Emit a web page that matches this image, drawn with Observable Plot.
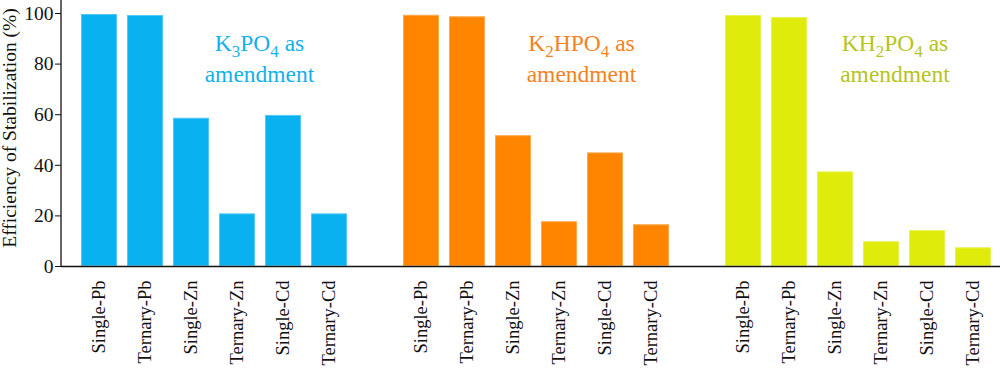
<!DOCTYPE html>
<html>
<head>
<meta charset="utf-8">
<script src="https://cdn.jsdelivr.net/npm/d3@7"></script>
<script src="https://cdn.jsdelivr.net/npm/@observablehq/plot@0.6"></script>
<style>
  html, body { margin: 0; padding: 0; background: #fff; }
  #chart { width: 1000px; height: 369px; }
  #chart svg, #chart svg text { font-family: "Liberation Serif", "Times New Roman", serif; }
</style>
</head>
<body>
<div id="chart"></div>
<script>
// ---- data ----
const groups = ["K3PO4", "K2HPO4", "KH2PO4"];
const categories = ["Single-Pb", "Ternary-Pb", "Single-Zn", "Ternary-Zn", "Single-Cd", "Ternary-Cd"];
const valuesK3PO4  = [99.6, 99.2, 58.6, 20.8, 59.7, 20.8];
const valuesK2HPO4 = [99.3, 98.7, 51.7, 17.7, 44.9, 16.5];
const valuesKH2PO4 = [99.2, 98.4, 37.4, 9.8, 14.2, 7.4];
const barColors  = ["#0ab1f1", "#ff8400", "#dfec0b"];
const textColors = ["#14b0ee", "#f5821f", "#b6c41c"];
const annotLabels = ["K3PO4 as\namendment", "K2HPO4 as\namendment", "KH2PO4 as\namendment"];
const yTicks = [0, 20, 40, 60, 80, 100];
const yLabel = "Efficiency of Stabilization (%)";

const FONT = "Liberation Serif";

// ---- build table ----
const seriesValues = [valuesK3PO4, valuesK2HPO4, valuesKH2PO4];
const rows = [];
groups.forEach((g, gi) => categories.forEach((c, ci) => rows.push({group: g, category: c, key: g + "|" + c, value: seriesValues[gi][ci]})));
const domain = [];
groups.forEach((g, gi) => {
  categories.forEach(c => domain.push(g + "|" + c));
  if (gi < groups.length - 1) domain.push("gap" + gi);
});
const annots = groups.map((g, i) => ({group: g, key: g + "|" + categories[3], label: annotLabels[i], color: textColors[i]}));
const edgeColor = g => d3.interpolateRgb(barColors[groups.indexOf(g)], "#ffffff")(0.3);

const axisLine = (index, scales, values, dims) => {
  const g = d3.create("svg:g");
  g.append("line")
    .attr("x1", dims.marginLeft).attr("x2", dims.marginLeft)
    .attr("y1", 0).attr("y2", dims.height - dims.marginBottom)
    .attr("stroke", "#111").attr("stroke-width", 1.3);
  return g.node();
};

const annotMark = (i, dx) => Plot.text([annots[i]], {
  x: "key", text: "label", fill: "color", frameAnchor: "top", lineAnchor: "top", textAnchor: "middle",
  dy: 15.3, dx, fontSize: 23.5, lineHeight: 1.32, fontFamily: FONT
});

const plot = Plot.plot({
  width: 1000,
  height: 369,
  marginLeft: 61,
  marginRight: 0,
  marginTop: 13,
  marginBottom: 103,
  style: {fontFamily: FONT, fontSize: "19px", color: "#111", background: "#fff"},
  x: {domain, paddingInner: 0.226, paddingOuter: 0.2055, align: 0.665, label: null},
  y: {domain: [0, 100], label: null},
  color: {domain: groups, range: barColors},
  marks: [
    Plot.barY(rows, {x: "key", y: "value", fill: "group", stroke: d => edgeColor(d.group), strokeWidth: 1, inset: 0.5}),
    Plot.axisY({ticks: yTicks, tickSize: 6, tickPadding: 2, fontSize: 19.5, fontFamily: FONT, label: null, stroke: "#111"}),
    Plot.axisX({tickSize: 0, tickPadding: 14, tickRotate: -90, fontSize: 18.5, fontFamily: FONT, label: null,
      tickFormat: d => d.includes("|") ? d.split("|")[1] : ""}),
    Plot.ruleY([0], {stroke: "#111", strokeWidth: 1.6}),
    axisLine,
    Plot.text([yLabel], {frameAnchor: "left", textAnchor: "middle", rotate: -90, dx: -51.5, dy: -12, fontSize: 19.5, fontFamily: FONT, fill: "#111"}),
    annotMark(0, 22),
    annotMark(1, 22),
    annotMark(2, 13.5)
  ]
});

// subscripts for chemical formulas
const NS = "http://www.w3.org/2000/svg";
plot.querySelectorAll("text").forEach(text => {
  if (!/PO\d/.test(text.textContent)) return;
  const spans = text.querySelectorAll("tspan");
  const targets = spans.length ? Array.from(spans) : [text];
  targets.forEach(t => {
    const s = t.textContent;
    if (!/PO\d/.test(s)) return;
    t.textContent = "";
    const parts = s.split(/(\d)/).filter(p => p !== "");
    let lowered = false;
    parts.forEach(p => {
      const ts = document.createElementNS(NS, "tspan");
      if (/\d/.test(p)) {
        ts.setAttribute("dy", lowered ? "0" : "6");
        ts.setAttribute("font-size", "17");
        lowered = true;
      } else {
        if (lowered) ts.setAttribute("dy", "-6");
        lowered = false;
      }
      ts.textContent = p;
      t.appendChild(ts);
    });
    if (lowered) {
      const ts = document.createElementNS(NS, "tspan");
      ts.setAttribute("dy", "-6");
      ts.textContent = "\u200b";
      t.appendChild(ts);
    }
  });
});

document.getElementById("chart").appendChild(plot);
</script>
</body>
</html>
